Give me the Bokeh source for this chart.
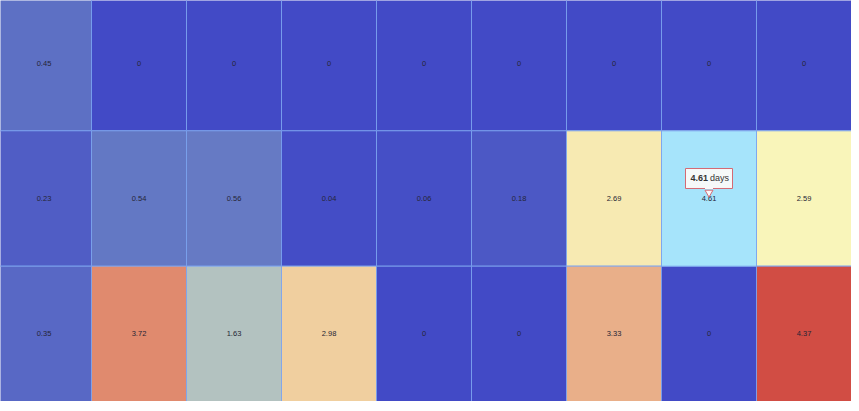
from bokeh.plotting import figure
from bokeh.models import Range1d, ColumnDataSource, LinearColorMapper
from bokeh.core.properties import value
from bokeh.embed import file_html
from bokeh.resources import INLINE

# ---- data ----
columns = [str(i) for i in range(9)]
rows = ["r0", "r1", "r2"]  # top to bottom
row0 = [0.45, 0, 0, 0, 0, 0, 0, 0, 0]
row1 = [0.23, 0.54, 0.56, 0.04, 0.06, 0.18, 2.69, 4.61, 2.59]
row2 = [0.35, 3.72, 1.63, 2.98, 0, 0, 3.33, 0, 4.37]
hover_col, hover_row = 7, 1
tooltip_unit = "days"

# ---- colour scale (style) ----
stops = [(0.0, (66, 74, 198)), (0.117, (100, 121, 196)),
         (0.354, (179, 194, 192)), (0.553, (250, 248, 188)),
         (1.0, (204, 55, 52))]
vmin, vmax = 0.0, 4.61


def make_palette(n=256):
    pal = []
    for k in range(n):
        t = k / (n - 1)
        for (a, ca), (b, cb) in zip(stops[:-1], stops[1:]):
            if a <= t <= b:
                f = (t - a) / (b - a)
                c = [int(round(ca[j] + (cb[j] - ca[j]) * f)) for j in range(3)]
                pal.append("#%02x%02x%02x" % tuple(c))
                break
    return pal


palette = make_palette()
mapper = LinearColorMapper(palette=palette, low=vmin, high=vmax)

grid = [row0, row1, row2]
xs, ys, vals, labels = [], [], [], []
for r, rowvals in enumerate(grid):
    for c, v in enumerate(rowvals):
        xs.append(c + 0.5)
        ys.append(len(grid) - r - 0.5)
        vals.append(v)
        labels.append(("%g" % v))
src = ColumnDataSource(dict(x=xs, y=ys, v=vals, label=labels))

# ---- layout ----
W, H = 851, 401
col_px = 95.0
row_px = 135.33
x_start = 4.0 / col_px
y_end = 3 - 5.0 / row_px

p = figure(width=W, height=H, output_backend="svg", toolbar_location=None,
           x_range=Range1d(x_start, 9), y_range=Range1d(0, y_end),
           min_border=0, min_border_left=0, min_border_right=0,
           min_border_top=0, min_border_bottom=0)
p.axis.visible = False
p.grid.visible = False
p.outline_line_color = None
p.background_fill_color = "white"
p.border_fill_color = "white"

p.rect(x="x", y="y", width=1, height=1, source=src,
       fill_color={"field": "v", "transform": mapper},
       line_color="#7aa2ee", line_alpha=0.85, line_width=1)

# hovered cell highlight
hx = hover_col + 0.5
hy = len(grid) - hover_row - 0.5
p.rect(x=[hx], y=[hy], width=1, height=1, fill_color="#a6e4fb",
       line_color="#7aa2ee", line_alpha=0.85, line_width=1)

p.text(x="x", y="y", text="label", source=src, text_align="center",
       text_baseline="middle", text_font=value("Liberation Sans"),
       text_font_size="7.5px", text_color="#252535")

# ---- tooltip ----
ppu_y = H / (y_end - 0)
box_h, box_w = 20, 47
box_cy = hy + 20.0 / ppu_y
p.rect(x=[hx], y=[box_cy], width=box_w, height=box_h, width_units="screen",
       height_units="screen", fill_color="#f9f9f9", fill_alpha=0.97,
       line_color="#d46a74", line_width=1)
p.scatter(x=[hx], y=[hy + 6.0 / ppu_y], marker="inverted_triangle", size=8,
          fill_color="#f9f9f9", line_color="#d46a74", line_width=1)
p.rect(x=[hx], y=[hy + 10.5 / ppu_y], width=8, height=2, width_units="screen",
       height_units="screen", fill_color="#f9f9f9", line_color=None)
val_txt = "%g" % grid[hover_row][hover_col]
p.text(x=[hx], y=[box_cy], text=[val_txt], x_offset=-1, text_align="right",
       text_baseline="middle", text_font=value("Liberation Sans"),
       text_font_size="9px", text_font_style="bold", text_color="#333333")
p.text(x=[hx], y=[box_cy], text=[tooltip_unit], x_offset=1, text_align="left",
       text_baseline="middle", text_font=value("Liberation Sans"),
       text_font_size="9px", text_color="#333333")

open("out.html", "w").write(file_html(p, INLINE))
